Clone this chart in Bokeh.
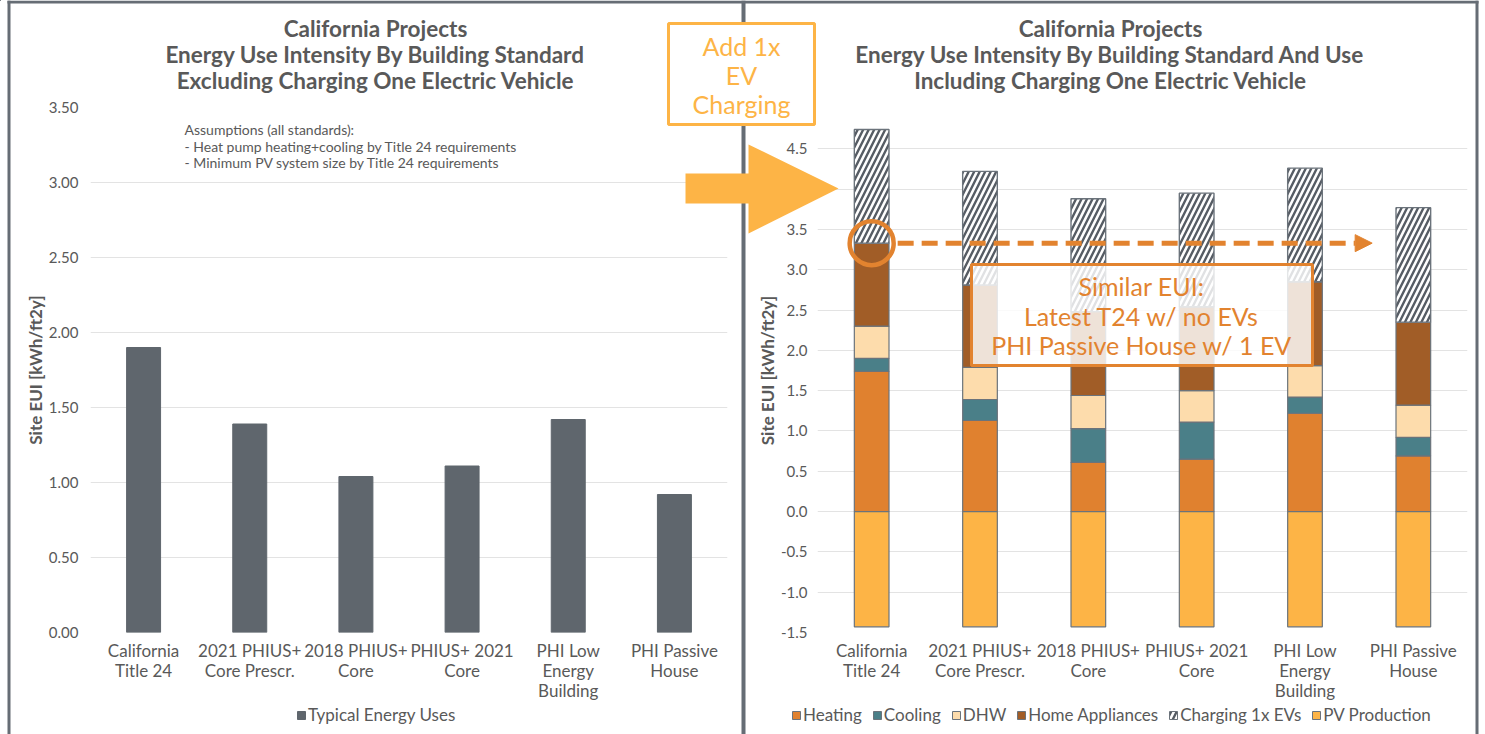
import numpy as np
from bokeh.plotting import figure
from bokeh.layouts import column
from bokeh.models import (ColumnDataSource, Range1d, FixedTicker, NumeralTickFormatter,
                          Legend, LegendItem, Arrow, NormalHead, GridBox)
from bokeh.core.properties import value
from bokeh.transform import stack
from bokeh.embed import file_html
from bokeh.resources import INLINE

# ---------------- data ----------------
categories = ["California\nTitle 24", "2021 PHIUS+\nCore Prescr.", "2018 PHIUS+\nCore",
              "PHIUS+ 2021\nCore", "PHI Low\nEnergy\nBuilding", "PHI Passive\nHouse"]
typical_energy_uses = [1.90, 1.39, 1.04, 1.11, 1.42, 0.92]

heating = [1.74, 1.13, 0.61, 0.65, 1.22, 0.69]
cooling = [0.16, 0.26, 0.42, 0.46, 0.20, 0.23]
dhw = [0.40, 0.40, 0.41, 0.39, 0.39, 0.40]
home_appliances = [1.03, 1.02, 1.04, 1.04, 1.04, 1.03]
charging_ev = [1.41, 1.41, 1.40, 1.41, 1.41, 1.42]
pv_production = [-1.43, -1.43, -1.43, -1.43, -1.43, -1.43]

series_names = ["Heating", "Cooling", "DHW", "Home Appliances", "Charging 1x EVs", "PV Production"]
left_series_name = "Typical Energy Uses"

left_ticks = [0.0, 0.5, 1.0, 1.5, 2.0, 2.5, 3.0, 3.5]
right_ticks = [-1.5, -1.0, -0.5, 0.0, 0.5, 1.0, 1.5, 2.0, 2.5, 3.0, 3.5, 4.0, 4.5, 5.0]

left_title = ["California Projects", "Energy Use Intensity By Building Standard",
              "Excluding Charging One Electric Vehicle"]
right_title = ["California Projects", "Energy Use Intensity By Building Standard And Use",
               "Including Charging One Electric Vehicle"]
assumptions = ["Assumptions (all standards):",
               "- Heat pump heating+cooling by Title 24 requirements",
               "- Minimum PV system size by Title 24 requirements"]
callout_add = ["Add 1x", "EV", "Charging"]
callout_similar = ["Similar EUI:", "Latest T24 w/ no EVs", "PHI Passive House w/ 1 EV"]

# ---------------- style ----------------
W, H = 1485, 734
TXT = "#595959"
FONT = "Lato"
GRID = "#E3E3E3"
OUT = "#6B737B"
C_HEAT = "#E0812F"
C_COOL = "#4A7F88"
C_DHW = "#FDDCAC"
C_APPL = "#A15D27"
C_PV = "#FDB446"
C_BAR = "#5F666D"
ACC = "#E2832F"
ACC2 = "#FDB446"
HATCH = dict(hatch_pattern="/", hatch_color="#565C64", hatch_weight=2.4, hatch_scale=11)
xs = list(range(len(categories)))


def style_axes(p, ticks, fmt, standoff, title_standoff):
    p.xaxis.ticker = FixedTicker(ticks=xs)
    p.xaxis.major_label_overrides = {i: c for i, c in enumerate(categories)}
    p.yaxis.ticker = FixedTicker(ticks=ticks)
    p.yaxis.formatter = NumeralTickFormatter(format=fmt)
    for ax in (p.xaxis[0], p.yaxis[0]):
        ax.axis_line_color = None
        ax.major_tick_line_color = None
        ax.minor_tick_line_color = None
        ax.major_tick_out = 0
        ax.major_tick_in = 0
        ax.major_label_text_font = FONT
        ax.major_label_text_color = TXT
    p.xaxis.major_label_text_font_size = "17px"
    p.xaxis.major_label_text_line_height = 0.96
    p.xaxis.major_label_standoff = 7
    p.yaxis.major_label_text_font_size = "15px"
    p.yaxis.major_label_standoff = standoff
    p.yaxis.axis_label = "Site EUI [kWh/ft2y]"
    p.yaxis.axis_label_text_font = FONT
    p.yaxis.axis_label_text_font_size = "17px"
    p.yaxis.axis_label_text_font_style = "bold"
    p.yaxis.axis_label_text_color = TXT
    p.yaxis.axis_label_standoff = title_standoff
    p.xgrid.grid_line_color = None
    p.ygrid.grid_line_color = GRID
    p.ygrid.grid_line_width = 1.2


def make_legend(items, x, y, spacing):
    return Legend(items=items, orientation="horizontal", location=(x, y),
                  padding=0, margin=0, spacing=spacing, label_standoff=2,
                  glyph_width=10, glyph_height=10, label_height=20,
                  label_text_font=FONT, label_text_font_size="17px", label_text_color=TXT,
                  border_line_color=None, background_fill_alpha=0)


# ---------------- left chart ----------------
L = figure(width=745, height=H, x_range=Range1d(-0.5, 5.5), y_range=Range1d(0, 3.5),
           output_backend="svg", toolbar_location=None,
           min_border_left=90, min_border_right=745 - 727, min_border_top=107,
           min_border_bottom=H - 632, background_fill_color="white",
           border_fill_color="white", outline_line_color=None)
style_axes(L, left_ticks, "0.00", 12, 0)
lsrc = ColumnDataSource(dict(x=xs, v=typical_energy_uses))
bar_left = dict(fill_color=C_BAR, line_color=C_BAR)
L.vbar(x="x", top="v", width=0.32, source=lsrc, **bar_left)

# ---------------- right chart ----------------
R = figure(width=W, height=H, x_range=Range1d(-0.5, 5.5), y_range=Range1d(-1.5, 5.0),
           output_backend="svg", toolbar_location=None,
           min_border_left=817, min_border_right=W - 1467, min_border_top=108,
           min_border_bottom=H - 632, background_fill_color="white",
           border_fill_color=None, border_fill_alpha=0, outline_line_color=None)
style_axes(R, right_ticks, "0.0", 10, 0)
src = ColumnDataSource(dict(x=xs, heating=heating, cooling=cooling, dhw=dhw,
                            appliances=home_appliances, ev=charging_ev, pv=pv_production))
seg_styles = [dict(fill_color=C_HEAT), dict(fill_color=C_COOL), dict(fill_color=C_DHW),
              dict(fill_color=C_APPL), dict(fill_color="white", **HATCH), dict(fill_color=C_PV)]
R.vbar_stack(["heating", "cooling", "dhw", "appliances"], x="x", width=0.32, source=src,
             fill_color=[s["fill_color"] for s in seg_styles[:4]], line_color=OUT, line_width=1.2)
R.vbar(x="x", bottom=stack("heating", "cooling", "dhw", "appliances"),
       top=stack("heating", "cooling", "dhw", "appliances", "ev"), width=0.32, source=src,
       line_color=OUT, line_width=1.4, **seg_styles[4])
R.vbar(x="x", top=0, bottom="pv", width=0.32, source=src, line_color=OUT, line_width=1.2,
       **seg_styles[5])

# highlight of California Title 24 total without EV
top0 = heating[0] + cooling[0] + dhw[0] + home_appliances[0]
R.scatter(x=[xs[0]], y=[top0], size=44, marker="circle", fill_color=None,
          line_color=ACC, line_width=4.5)
R.add_layout(Arrow(end=NormalHead(size=17, fill_color=ACC, line_color=ACC, line_width=1),
                   x_start=xs[0] + 0.24, y_start=top0, x_end=xs[4] + 0.62, y_end=top0,
                   line_color=ACC, line_width=5, line_dash="16 8"))

# ---------------- overlay (page decorations, pixel space) ----------------
O = figure(width=W, height=H, x_range=Range1d(0, W), y_range=Range1d(H, 0),
           output_backend="svg", toolbar_location=None, x_axis_type=None, y_axis_type=None,
           min_border=0, background_fill_color=None, background_fill_alpha=0,
           border_fill_color=None, border_fill_alpha=0, outline_line_color=None)
O.xgrid.grid_line_color = None
O.ygrid.grid_line_color = None
# panel frames
O.quad(left=[7, 741, 1475, 7], right=[10, 745, 1478, 1478], top=[0, 0, 0, 0],
       bottom=[H, H, H, 3], fill_color="#666D75", line_color=None)
# titles
O.text(x=[375] * 3, y=[28, 54, 80], text=left_title, text_align="center",
       text_baseline="middle", text_font=value(FONT), text_font_style="bold",
       text_font_size="22.5px", text_color=TXT)
O.text(x=[1110] * 3, y=[28, 54, 80], text=right_title, text_align="center",
       text_baseline="middle", text_font=value(FONT), text_font_style="bold",
       text_font_size="22.5px", text_color=TXT)
O.text(x=[184] * 3, y=[129, 146, 162], text=assumptions, text_align="left",
       text_baseline="middle", text_font=value(FONT), text_font_size="14px", text_color=TXT)
# "Add 1x EV Charging" call-out and big arrow
O.patch(x=[685, 748, 748, 838, 748, 748, 685], y=[173, 173, 144, 188, 233, 203, 203],
        fill_color=ACC2, line_color=None)
O.quad(left=[668], right=[814], top=[23], bottom=[124], fill_color="white",
       line_color=ACC2, line_width=3)
O.text(x=[741] * 3, y=[45, 74, 103], text=callout_add, text_align="center",
       text_baseline="middle", text_font=value(FONT), text_font_size="25px", text_color=ACC2)
# "Similar EUI" call-out
O.quad(left=[971], right=[1312], top=[264], bottom=[365], fill_color="white",
       fill_alpha=0.82, line_color=ACC, line_width=3)
O.text(x=[1141] * 3, y=[285, 315, 344], text=callout_similar, text_align="center",
       text_baseline="middle", text_font=value(FONT), text_font_size="25px", text_color=ACC)

# legends (drawn on the full-page layer so they can sit below the chart frames);
# their swatch renderers hold one off-canvas point so that only the legend glyph shows
offpage = ColumnDataSource(dict(x=[-1000], top=[0]))
lg_left = O.vbar(x="x", top="top", width=1, source=offpage, **bar_left)
O.add_layout(make_legend([LegendItem(label=left_series_name, renderers=[lg_left])], 296, 9, 8))
lg_right = []
for name, st in zip(series_names, seg_styles):
    r = O.vbar(x="x", top="top", width=1, source=offpage, line_color=OUT, line_width=1, **st)
    lg_right.append(LegendItem(label=name, renderers=[r]))
O.add_layout(make_legend(lg_right, 791, 9, 10))

grid = GridBox(children=[(column(L), 0, 0), (column(R), 0, 0), (column(O), 0, 0)])
open("out.html", "w").write(file_html(grid, INLINE))
